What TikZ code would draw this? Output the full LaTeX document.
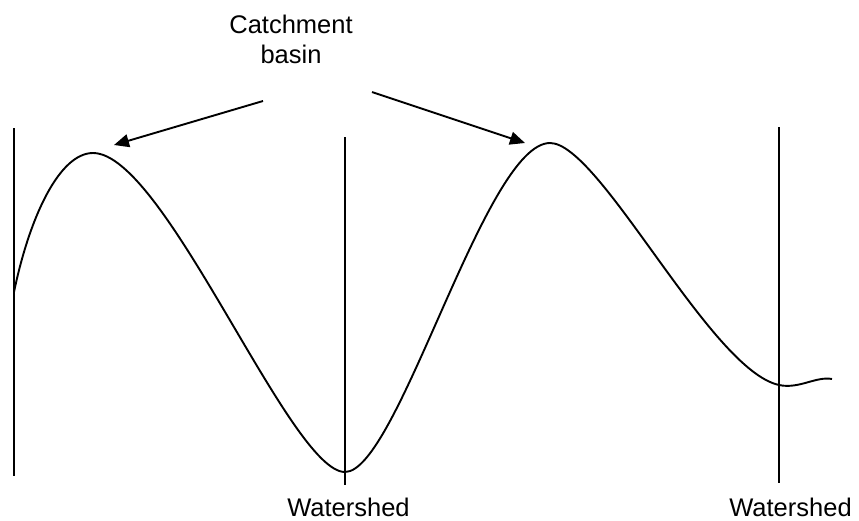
\documentclass[tikz,border=0pt]{standalone}
\usepackage{fontspec}
\setmainfont{Liberation Sans}
\usetikzlibrary{arrows.meta}
\tikzset{
  label/.style={inner sep=0pt, font=\fontsize{25.5}{30}\selectfont},
  wline/.style={line width=1.7pt, black},
  curve/.style={line width=1.9pt, black, line join=round},
  pointer/.style={line width=1.9pt, black, -{Triangle[length=15pt,width=13pt]}},
}
\begin{document}
\begin{tikzpicture}[x=1pt,y=-1pt]
\useasboundingbox (0,0) rectangle (859,520);
% labels
\node[label, align=center, anchor=base] (cb) at (291,63) {Catchment\\basin};
\node[label, anchor=base] (w1) at (348.5,516) {Watershed};
\node[label, anchor=base] (w2) at (790.5,516) {Watershed};
% watershed lines
\coordinate (l1t) at (14,128);
\coordinate (l1b) at (14,476);
\coordinate (l2t) at (345,137);
\coordinate (l2b) at (345,485);
\coordinate (l3t) at (779,127);
\coordinate (l3b) at (779,483);
\draw[wline] (l1t) -- (l1b);
\draw[wline] (l2t) -- (l2b);
\draw[wline] (l3t) -- (l3b);
% curve
\coordinate (s) at (14,292);
\coordinate (p1) at (93,153);
\coordinate (m1) at (345,472);
\coordinate (p2) at (550,143);
\coordinate (m2) at (779,385);
\coordinate (e) at (832,379);
\draw[curve] (s) .. controls (30,215) and (60,153) .. (p1)
  .. controls (165,153) and (290,472) .. (m1)
  .. controls (398,472) and (485,143) .. (p2)
  .. controls (600,143) and (710,370) .. (m2)
  .. controls (799,389.3) and (816,376) .. (e);
% arrows
\coordinate (a1s) at (263,101);
\coordinate (a1e) at (114,145);
\coordinate (a2s) at (372,92);
\coordinate (a2e) at (525,143);
\draw[pointer] (a1s) -- (a1e);
\draw[pointer] (a2s) -- (a2e);
\end{tikzpicture}
\end{document}
